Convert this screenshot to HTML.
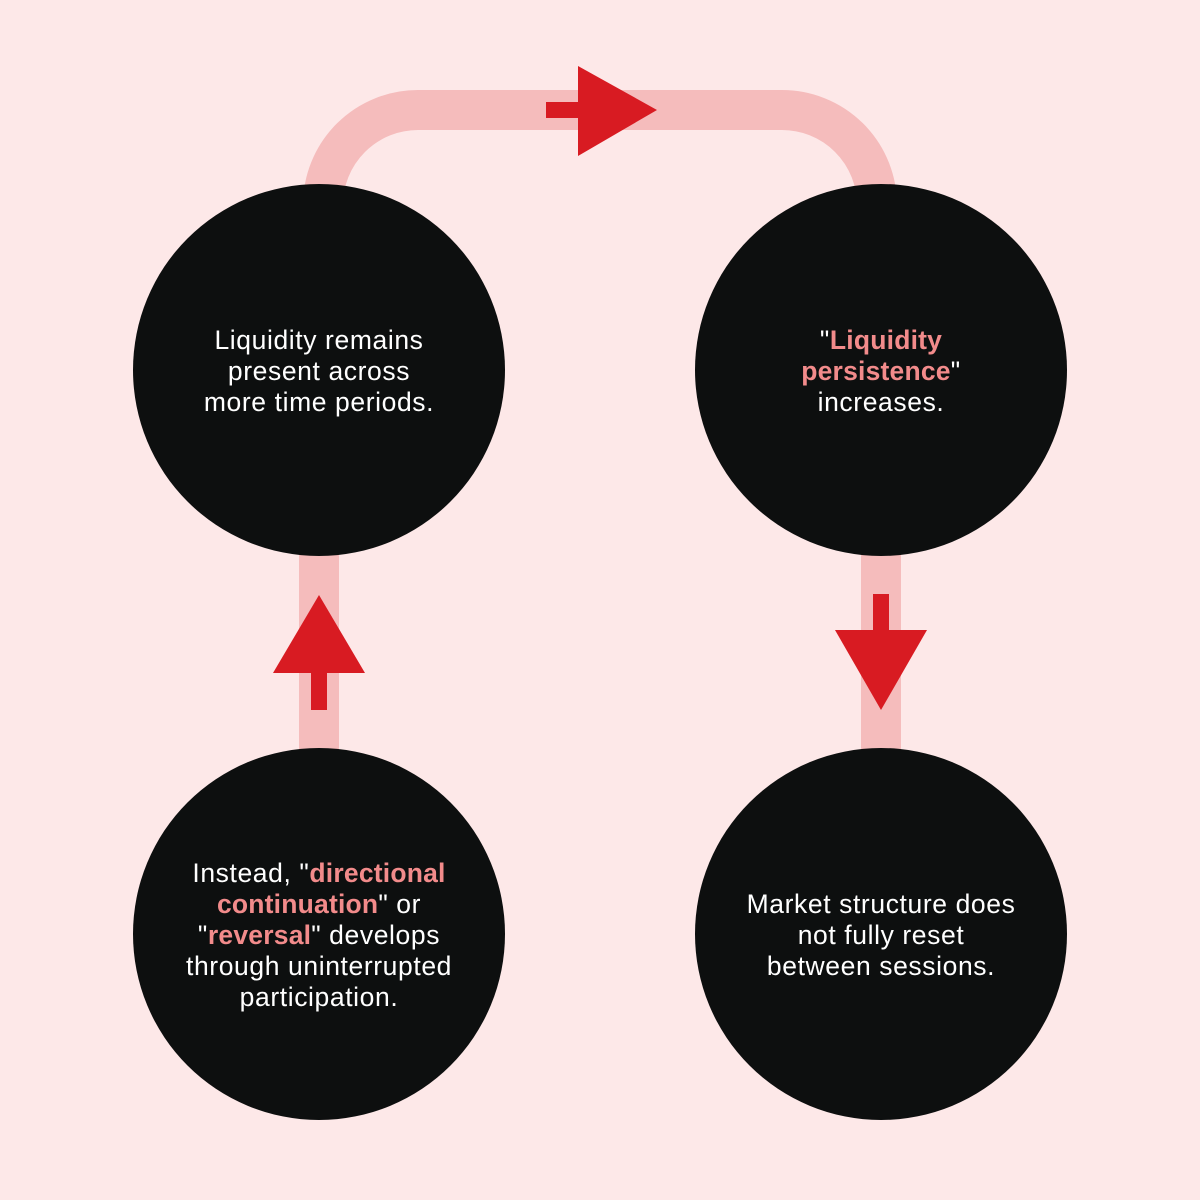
<!DOCTYPE html>
<html><head><meta charset="utf-8"><style>
html,body{margin:0;padding:0}
body{width:1200px;height:1200px;background:#fde8e8;position:relative;overflow:hidden;font-family:"Liberation Sans",sans-serif}
svg{position:absolute;left:0;top:0}
.c{position:absolute;width:372px;height:372px;border-radius:50%;background:#0d0f0f;display:flex;align-items:center;justify-content:center;text-align:center;color:#fff;font-size:26.5px;line-height:31px;letter-spacing:0.6px;padding-top:2px;box-sizing:border-box}
.h{color:#f28b8b;font-weight:bold;letter-spacing:0.2px}
</style></head><body>
<svg width="1200" height="1200">
<path d="M323 240 V205 A95 95 0 0 1 418 110 H782 A95 95 0 0 1 877 205 V240" fill="none" stroke="#f5bcbc" stroke-width="40"/>
<rect x="299" y="540" width="40" height="220" fill="#f5bcbc"/>
<rect x="861" y="540" width="40" height="220" fill="#f5bcbc"/>
<rect x="546" y="102" width="36" height="16" fill="#d81b22"/>
<polygon points="578,66 578,156 657,110" fill="#d81b22"/>
<polygon points="273,673 365,673 319,595" fill="#d81b22"/>
<rect x="311" y="670" width="16" height="40" fill="#d81b22"/>
<rect x="873" y="594" width="16" height="40" fill="#d81b22"/>
<polygon points="835,630 927,630 881,710" fill="#d81b22"/>
</svg>
<div class="c" style="left:133px;top:184px"><div>Liquidity remains<br>present across<br>more time periods.</div></div>
<div class="c" style="left:695px;top:184px"><div>"<span class="h">Liquidity<br>persistence</span>"<br>increases.</div></div>
<div class="c" style="left:133px;top:748px"><div>Instead, "<span class="h">directional<br>continuation</span>" or<br>"<span class="h">reversal</span>" develops<br>through uninterrupted<br>participation.</div></div>
<div class="c" style="left:695px;top:748px"><div>Market structure does<br>not fully reset<br>between sessions.</div></div>
</body></html>
